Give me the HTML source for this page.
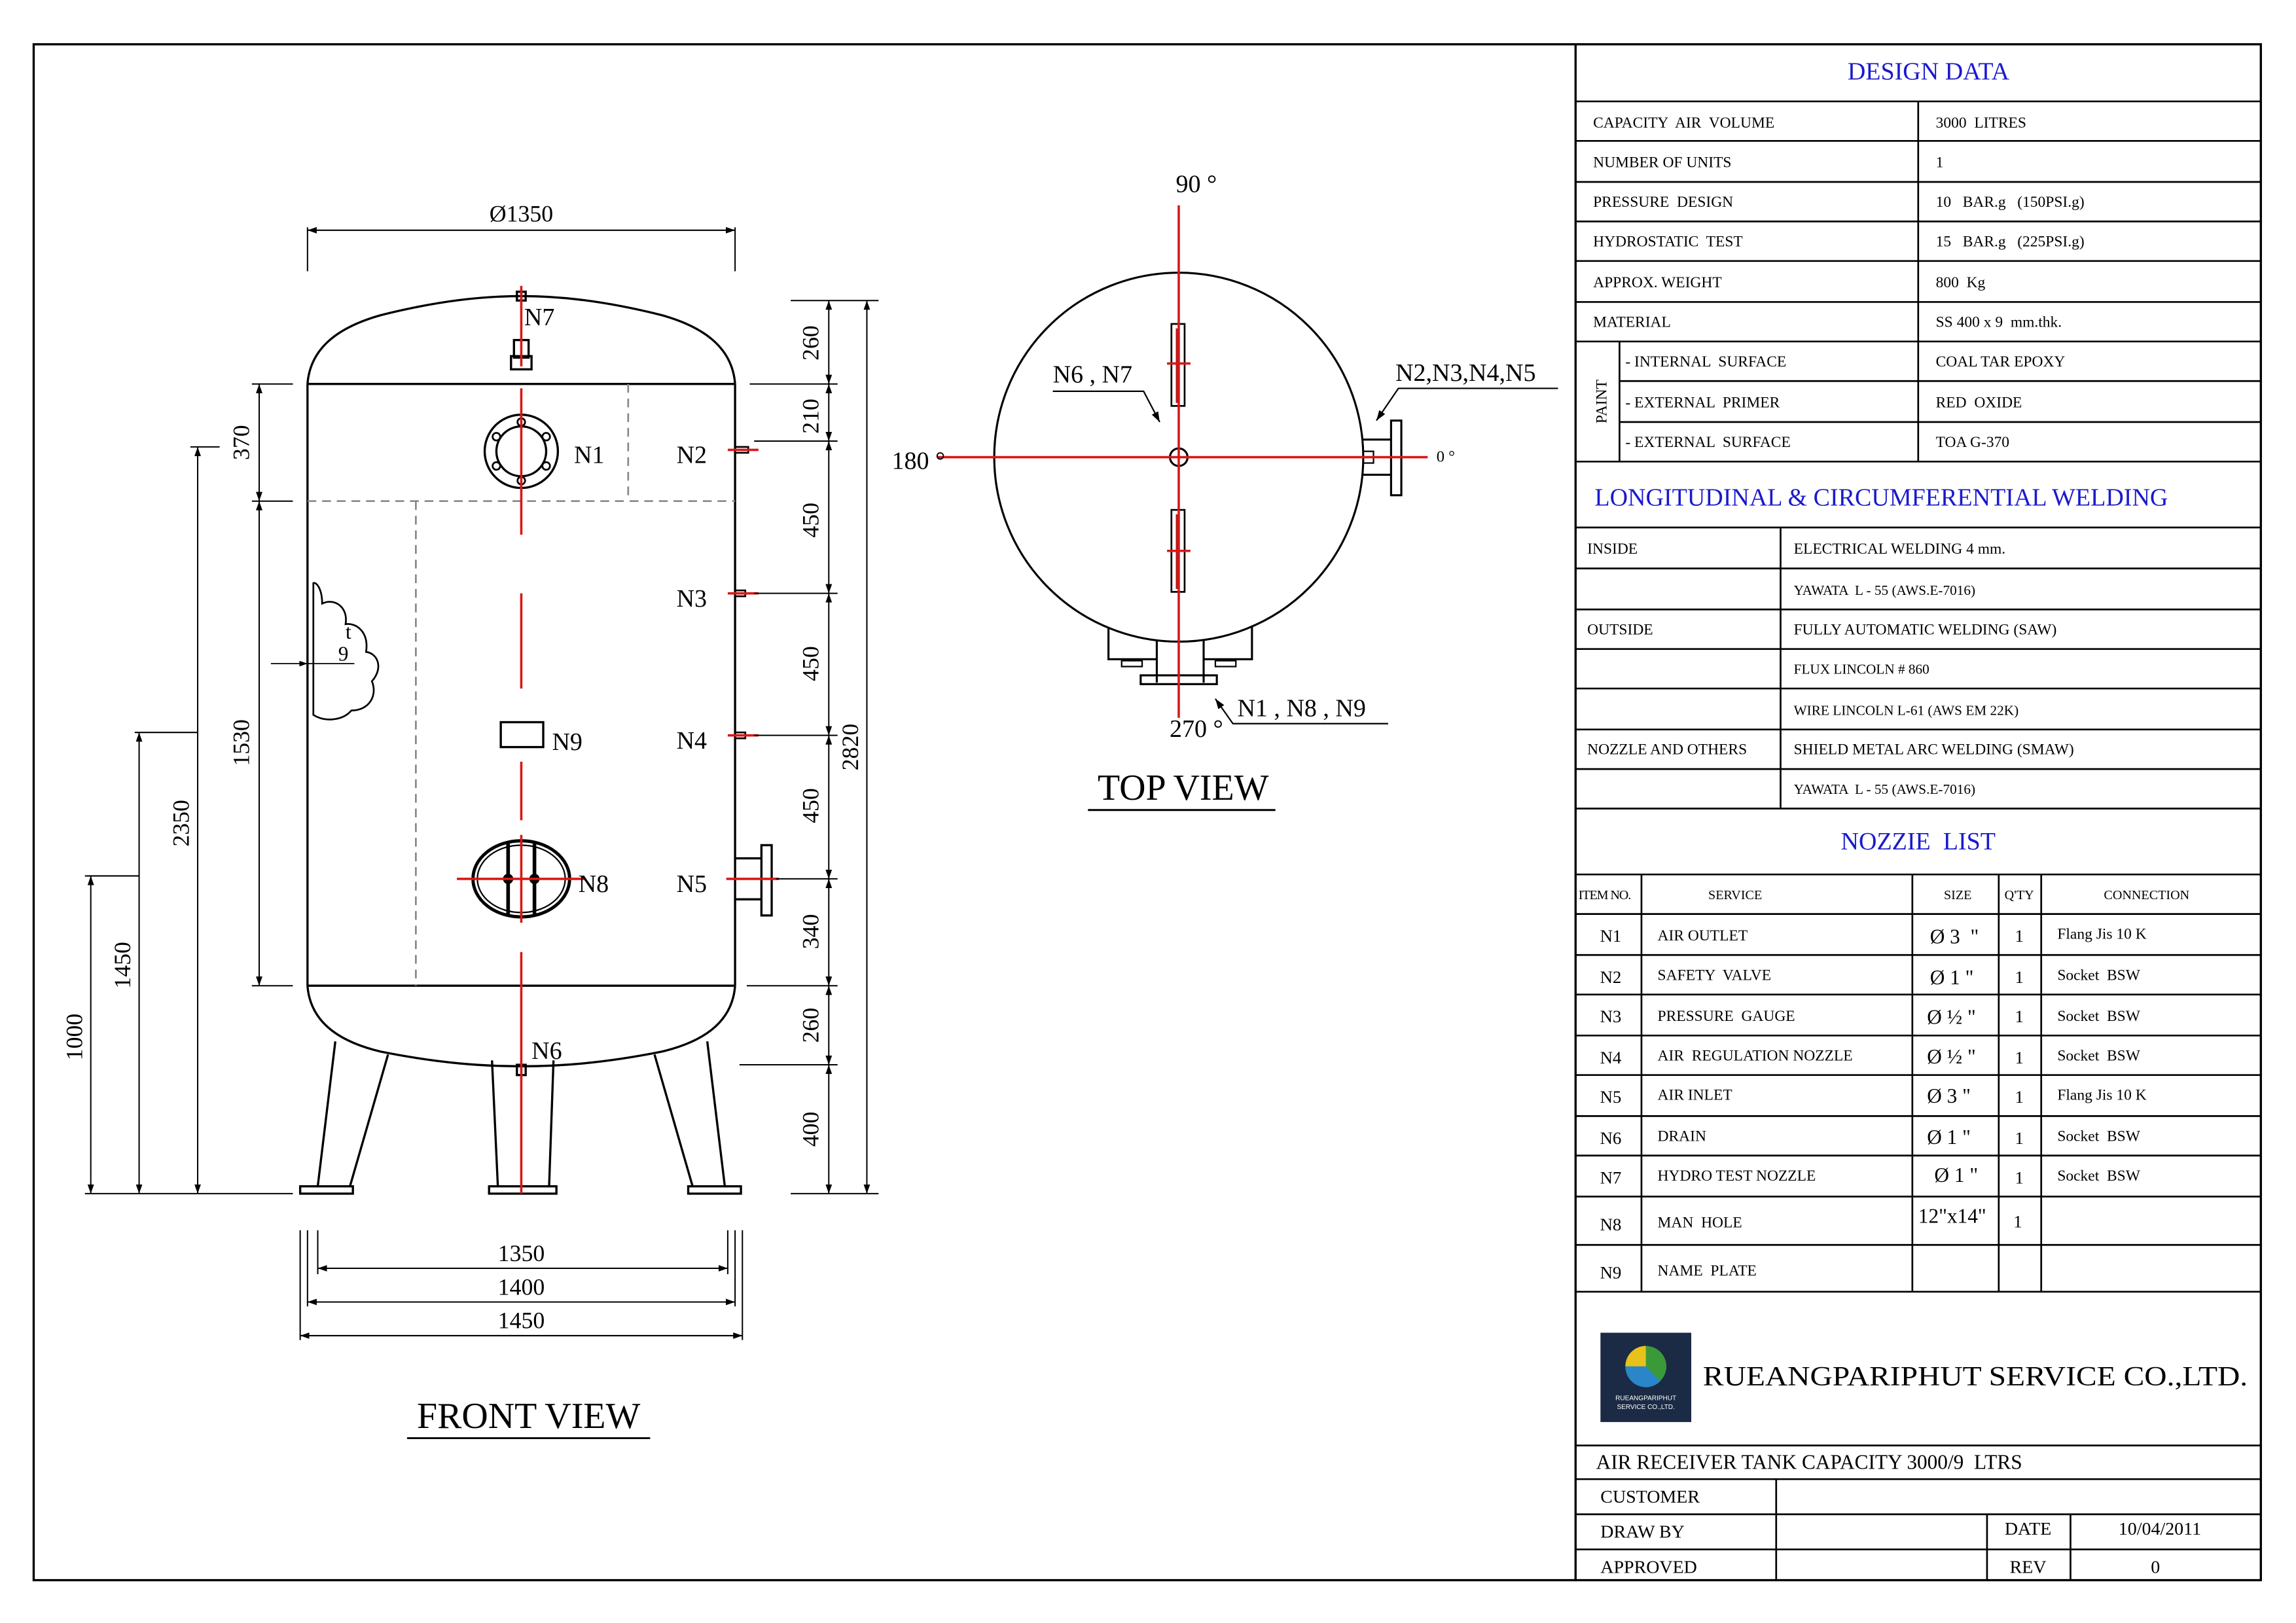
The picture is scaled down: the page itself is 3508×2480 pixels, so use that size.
<!DOCTYPE html>
<html><head><meta charset="utf-8"><style>
html,body{margin:0;padding:0;background:#fff;}
svg{display:block;}
text{font-family:"Liberation Serif",serif;fill:#000;white-space:pre;}
.t{font-size:10.5px;}
.b{fill:#1a1acc;font-size:17px;}
.n{font-size:17px;}
.d{font-size:16px;}
</style></head><body>
<svg width="3508" height="2480" viewBox="0 0 1568 1108" xmlns="http://www.w3.org/2000/svg">
<defs>
<marker id="a" viewBox="0 0 10 10" refX="10" refY="5" markerWidth="7" markerHeight="7" orient="auto-start-reverse"><path d="M0,1.5 L10,5 L0,8.5 Z" fill="#000"/></marker>
</defs>
<rect x="0" y="0" width="1568" height="1108" fill="#fff"/>
<rect x="23" y="30" width="1521" height="1049" fill="none" stroke="#000" stroke-width="1.5"/>
<line x1="1076" y1="30" x2="1076" y2="1079" stroke="#000" stroke-width="1.5"/>

<g stroke="#000" stroke-width="1.2">
<line x1="1076" y1="69" x2="1544" y2="69"/>
<line x1="1076" y1="96" x2="1544" y2="96"/>
<line x1="1076" y1="124" x2="1544" y2="124"/>
<line x1="1076" y1="151" x2="1544" y2="151"/>
<line x1="1076" y1="178" x2="1544" y2="178"/>
<line x1="1076" y1="206" x2="1544" y2="206"/>
<line x1="1076" y1="233" x2="1544" y2="233"/>
<line x1="1106" y1="260" x2="1544" y2="260"/>
<line x1="1106" y1="288" x2="1544" y2="288"/>
<line x1="1076" y1="315" x2="1544" y2="315"/>
<line x1="1310" y1="69" x2="1310" y2="315"/>
<line x1="1106" y1="233" x2="1106" y2="315"/>
</g>
<text x="1317" y="54" class="b" text-anchor="middle">DESIGN DATA</text>
<g class="t">
<text x="1088" y="87">CAPACITY  AIR  VOLUME</text><text x="1322" y="87">3000  LITRES</text>
<text x="1088" y="114">NUMBER OF UNITS</text><text x="1322" y="114">1</text>
<text x="1088" y="141">PRESSURE  DESIGN</text><text x="1322" y="141">10   BAR.g   (150PSI.g)</text>
<text x="1088" y="168">HYDROSTATIC  TEST</text><text x="1322" y="168">15   BAR.g   (225PSI.g)</text>
<text x="1088" y="196">APPROX. WEIGHT</text><text x="1322" y="196">800  Kg</text>
<text x="1088" y="223">MATERIAL</text><text x="1322" y="223">SS 400 x 9  mm.thk.</text>
<text x="1110" y="250">- INTERNAL  SURFACE</text><text x="1322" y="250">COAL TAR EPOXY</text>
<text x="1110" y="278">- EXTERNAL  PRIMER</text><text x="1322" y="278">RED  OXIDE</text>
<text x="1110" y="305">- EXTERNAL  SURFACE</text><text x="1322" y="305">TOA G-370</text>
<text x="1097" y="274" transform="rotate(-90 1097 274)" text-anchor="middle">PAINT</text>
</g>

<text x="1089" y="345" class="b">LONGITUDINAL &amp; CIRCUMFERENTIAL WELDING</text>
<g stroke="#000" stroke-width="1.2">
<line x1="1076" y1="360" x2="1544" y2="360"/>
<line x1="1076" y1="388" x2="1544" y2="388"/>
<line x1="1076" y1="416" x2="1544" y2="416"/>
<line x1="1076" y1="443" x2="1544" y2="443"/>
<line x1="1076" y1="470" x2="1544" y2="470"/>
<line x1="1076" y1="498" x2="1544" y2="498"/>
<line x1="1076" y1="525" x2="1544" y2="525"/>
<line x1="1076" y1="552" x2="1544" y2="552"/>
<line x1="1216" y1="360" x2="1216" y2="552"/>
</g>
<g class="t">
<text x="1084" y="378">INSIDE</text><text x="1225" y="378">ELECTRICAL WELDING 4 mm.</text>
<text x="1225" y="406" font-size="9.5">YAWATA  L - 55 (AWS.E-7016)</text>
<text x="1084" y="433">OUTSIDE</text><text x="1225" y="433">FULLY AUTOMATIC WELDING (SAW)</text>
<text x="1225" y="460" font-size="9.5">FLUX LINCOLN # 860</text>
<text x="1225" y="488" font-size="9.5">WIRE LINCOLN L-61 (AWS EM 22K)</text>
<text x="1084" y="515">NOZZLE AND OTHERS</text><text x="1225" y="515">SHIELD METAL ARC WELDING (SMAW)</text>
<text x="1225" y="542" font-size="9.5">YAWATA  L - 55 (AWS.E-7016)</text>
</g>

<text x="1310" y="580" class="b" text-anchor="middle">NOZZIE  LIST</text>
<g stroke="#000" stroke-width="1.2">
<line x1="1076" y1="597" x2="1544" y2="597"/>
<line x1="1076" y1="624" x2="1544" y2="624"/>
<line x1="1076" y1="652" x2="1544" y2="652"/>
<line x1="1076" y1="679" x2="1544" y2="679"/>
<line x1="1076" y1="707" x2="1544" y2="707"/>
<line x1="1076" y1="734" x2="1544" y2="734"/>
<line x1="1076" y1="762" x2="1544" y2="762"/>
<line x1="1076" y1="789" x2="1544" y2="789"/>
<line x1="1076" y1="817" x2="1544" y2="817"/>
<line x1="1076" y1="850" x2="1544" y2="850"/>
<line x1="1076" y1="882" x2="1544" y2="882"/>
<line x1="1121" y1="597" x2="1121" y2="882"/>
<line x1="1306" y1="597" x2="1306" y2="882"/>
<line x1="1365" y1="597" x2="1365" y2="882"/>
<line x1="1394" y1="597" x2="1394" y2="882"/>
</g>
<g class="t">
<text x="1078" y="614" font-size="9" letter-spacing="-0.5">ITEM NO.</text>
<text x="1185" y="614" font-size="9" text-anchor="middle">SERVICE</text>
<text x="1337" y="614" font-size="9" text-anchor="middle">SIZE</text>
<text x="1379" y="614" font-size="9" text-anchor="middle">Q'TY</text>
<text x="1466" y="614" font-size="9" text-anchor="middle">CONNECTION</text>
</g>
<g font-size="12">
<text x="1100" y="643" text-anchor="middle">N1</text><text x="1100" y="671" text-anchor="middle">N2</text><text x="1100" y="698" text-anchor="middle">N3</text><text x="1100" y="726" text-anchor="middle">N4</text><text x="1100" y="753" text-anchor="middle">N5</text><text x="1100" y="781" text-anchor="middle">N6</text><text x="1100" y="808" text-anchor="middle">N7</text><text x="1100" y="840" text-anchor="middle">N8</text><text x="1100" y="873" text-anchor="middle">N9</text>
<text x="1379" y="643" text-anchor="middle">1</text><text x="1379" y="671" text-anchor="middle">1</text><text x="1379" y="698" text-anchor="middle">1</text><text x="1379" y="726" text-anchor="middle">1</text><text x="1379" y="753" text-anchor="middle">1</text><text x="1379" y="781" text-anchor="middle">1</text><text x="1379" y="808" text-anchor="middle">1</text><text x="1378" y="838" text-anchor="middle">1</text>
</g>
<g class="t">
<text x="1132" y="642">AIR OUTLET</text><text x="1132" y="669">SAFETY  VALVE</text><text x="1132" y="697">PRESSURE  GAUGE</text><text x="1132" y="724">AIR  REGULATION NOZZLE</text><text x="1132" y="751">AIR INLET</text><text x="1132" y="779">DRAIN</text><text x="1132" y="806">HYDRO TEST NOZZLE</text><text x="1132" y="838">MAN  HOLE</text><text x="1132" y="871">NAME  PLATE</text>
<text x="1405" y="641">Flang Jis 10 K</text><text x="1405" y="669">Socket  BSW</text><text x="1405" y="697">Socket  BSW</text><text x="1405" y="724">Socket  BSW</text><text x="1405" y="751">Flang Jis 10 K</text><text x="1405" y="779">Socket  BSW</text><text x="1405" y="806">Socket  BSW</text>
</g>
<g font-size="14">
<text x="1318" y="644">Ø 3  "</text><text x="1318" y="672">Ø 1 "</text><text x="1316" y="699">Ø ½ "</text><text x="1316" y="726">Ø ½ "</text><text x="1316" y="753">Ø 3 "</text><text x="1316" y="781">Ø 1 "</text><text x="1321" y="807">Ø 1 "</text><text x="1310" y="835">12"x14"</text>
</g>

<rect x="1093" y="910" width="62" height="61" fill="#1b2a45"/>
<circle cx="1124" cy="933" r="14" fill="#3a9a3a"/>
<path d="M1124,933 L1110,933 A14,14 0 0 1 1124,919 Z" fill="#e8c21a"/>
<path d="M1124,933 L1110,933 A14,14 0 0 0 1134,943 Z" fill="#2a86c8"/>
<text x="1124" y="956" font-size="4.5" text-anchor="middle" style="fill:#fff;font-family:'Liberation Sans',sans-serif">RUEANGPARIPHUT</text>
<text x="1124" y="962" font-size="4.5" text-anchor="middle" style="fill:#fff;font-family:'Liberation Sans',sans-serif">SERVICE CO.,LTD.</text>
<text x="1163" y="946" font-size="19" textLength="372" lengthAdjust="spacingAndGlyphs">RUEANGPARIPHUT SERVICE CO.,LTD.</text>

<g stroke="#000" stroke-width="1.2">
<line x1="1076" y1="987" x2="1544" y2="987"/>
<line x1="1076" y1="1010" x2="1544" y2="1010"/>
<line x1="1076" y1="1034" x2="1544" y2="1034"/>
<line x1="1076" y1="1058" x2="1544" y2="1058"/>
<line x1="1213" y1="1010" x2="1213" y2="1079"/>
<line x1="1357" y1="1034" x2="1357" y2="1079"/>
<line x1="1414" y1="1034" x2="1414" y2="1079"/>
</g>
<text x="1090" y="1003" font-size="14">AIR RECEIVER TANK CAPACITY 3000/9  LTRS</text>
<g font-size="12.5">
<text x="1093" y="1026">CUSTOMER</text>
<text x="1093" y="1050">DRAW BY</text><text x="1385" y="1048" text-anchor="middle">DATE</text><text x="1475" y="1048" text-anchor="middle">10/04/2011</text>
<text x="1093" y="1074">APPROVED</text><text x="1385" y="1074" text-anchor="middle">REV</text><text x="1472" y="1074" text-anchor="middle">0</text>
</g>

<g fill="none" stroke="#000" stroke-width="1.5">
<path d="M210,262 C212,235 235,222 260,215 C300,205 330,202 356,202 C382,202 412,205 452,215 C477,222 500,235 502,262"/>
<path d="M210,673 C212,700 235,712 260,718 C300,726 330,728 356,728 C382,728 412,726 452,718 C477,712 500,700 502,673"/>
<line x1="210" y1="262" x2="210" y2="673"/>
<line x1="502" y1="262" x2="502" y2="673"/>
<line x1="210" y1="262" x2="502" y2="262"/>
<line x1="210" y1="673" x2="502" y2="673"/>
<path d="M229,711 L217,810 M265,720 L239,810"/>
<path d="M336,724 L340,810 M378,724 L375,810"/>
<path d="M447,720 L473,810 M483,711 L495,810"/>
<rect x="205" y="810" width="36" height="5"/>
<rect x="334" y="810" width="46" height="5"/>
<rect x="470" y="810" width="36" height="5"/>
<circle cx="356" cy="308" r="25"/><circle cx="356" cy="308" r="17"/>
<g stroke-width="1.2"><circle cx="356" cy="288" r="2.6"/><circle cx="356" cy="328" r="2.6"/><circle cx="339" cy="298" r="2.6"/><circle cx="373" cy="298" r="2.6"/><circle cx="339" cy="318" r="2.6"/><circle cx="373" cy="318" r="2.6"/></g>
<rect x="353" y="199" width="6" height="6"/>
<rect x="351" y="232" width="10" height="12"/>
<rect x="349" y="243" width="14" height="9"/>
<rect x="353" y="727" width="6" height="7"/>
<rect x="342" y="493" width="29" height="17"/>
<ellipse cx="356" cy="600" rx="33" ry="26" stroke-width="2.2"/>
<ellipse cx="356" cy="600" rx="30" ry="23" stroke-width="1"/>
<line x1="347" y1="576" x2="347" y2="624" stroke-width="2.5"/>
<line x1="365" y1="576" x2="365" y2="624" stroke-width="2.5"/>
<rect x="502" y="305" width="9" height="4" stroke-width="1.2"/>
<rect x="502" y="403" width="7" height="4" stroke-width="1.2"/>
<rect x="502" y="500" width="7" height="4" stroke-width="1.2"/>
<path d="M502,586 H520 M502,614 H520"/>
<rect x="520" y="577" width="7" height="48"/>
<path d="M214,398 V488 C222,493 234,492 240,485 C252,485 258,475 254,465 C262,456 258,446 250,445 C252,432 244,425 236,426 C238,414 228,408 220,412 C220,402 216,397 214,398 Z" stroke-width="1.2"/>
</g>
<circle cx="347" cy="600" r="3.5" fill="#000"/><circle cx="365" cy="600" r="3.5" fill="#000"/>
<line x1="185" y1="453" x2="210" y2="453" stroke="#000" stroke-width="0.8" marker-end="url(#a)"/>
<line x1="210" y1="453" x2="242" y2="453" stroke="#000" stroke-width="0.8"/>
<text x="236" y="436" font-size="14">t</text><text x="231" y="451" font-size="14">9</text>
<g stroke="#888" stroke-width="1.2" stroke-dasharray="6,4" fill="none">
<line x1="210" y1="342" x2="502" y2="342"/>
<line x1="429" y1="262" x2="429" y2="342"/>
<line x1="284" y1="342" x2="284" y2="673"/>
</g>
<g stroke="#d81818" stroke-width="1.6">
<line x1="356" y1="195" x2="356" y2="250"/>
<line x1="356" y1="265" x2="356" y2="365"/>
<line x1="356" y1="405" x2="356" y2="470"/>
<line x1="356" y1="520" x2="356" y2="560"/>
<line x1="356" y1="570" x2="356" y2="630"/>
<line x1="356" y1="650" x2="356" y2="815"/>
<line x1="312" y1="600" x2="400" y2="600"/>
<line x1="497" y1="307" x2="518" y2="307"/>
<line x1="497" y1="405" x2="518" y2="405"/>
<line x1="497" y1="502" x2="518" y2="502"/>
<line x1="496" y1="600" x2="532" y2="600"/>
</g>
<g class="n">
<text x="358" y="222">N7</text><text x="392" y="316">N1</text><text x="462" y="316">N2</text><text x="462" y="414">N3</text><text x="377" y="512">N9</text><text x="462" y="511">N4</text><text x="395" y="609">N8</text><text x="462" y="609">N5</text><text x="363" y="723">N6</text>
</g>

<g stroke="#000" stroke-width="0.9" fill="none">
<line x1="210" y1="155" x2="210" y2="185"/><line x1="502" y1="155" x2="502" y2="185"/>
<line x1="210" y1="157" x2="502" y2="157" marker-start="url(#a)" marker-end="url(#a)"/>
<line x1="540" y1="205" x2="600" y2="205"/>
<line x1="512" y1="262" x2="572" y2="262"/>
<line x1="515" y1="301" x2="572" y2="301"/>
<line x1="515" y1="405" x2="572" y2="405"/>
<line x1="515" y1="502" x2="572" y2="502"/>
<line x1="530" y1="600" x2="572" y2="600"/>
<line x1="510" y1="673" x2="572" y2="673"/>
<line x1="505" y1="727" x2="572" y2="727"/>
<line x1="540" y1="815" x2="600" y2="815"/>
<line x1="566" y1="205" x2="566" y2="262" marker-start="url(#a)" marker-end="url(#a)"/>
<line x1="566" y1="262" x2="566" y2="301" marker-start="url(#a)" marker-end="url(#a)"/>
<line x1="566" y1="301" x2="566" y2="405" marker-start="url(#a)" marker-end="url(#a)"/>
<line x1="566" y1="405" x2="566" y2="502" marker-start="url(#a)" marker-end="url(#a)"/>
<line x1="566" y1="502" x2="566" y2="600" marker-start="url(#a)" marker-end="url(#a)"/>
<line x1="566" y1="600" x2="566" y2="673" marker-start="url(#a)" marker-end="url(#a)"/>
<line x1="566" y1="673" x2="566" y2="727" marker-start="url(#a)" marker-end="url(#a)"/>
<line x1="566" y1="727" x2="566" y2="815" marker-start="url(#a)" marker-end="url(#a)"/>
<line x1="592" y1="205" x2="592" y2="815" marker-start="url(#a)" marker-end="url(#a)"/>
<line x1="172" y1="262" x2="200" y2="262"/>
<line x1="172" y1="342" x2="200" y2="342"/>
<line x1="172" y1="673" x2="200" y2="673"/>
<line x1="130" y1="305" x2="150" y2="305"/>
<line x1="92" y1="500" x2="135" y2="500"/>
<line x1="58" y1="598" x2="95" y2="598"/>
<line x1="58" y1="815" x2="200" y2="815"/>
<line x1="177" y1="262" x2="177" y2="342" marker-start="url(#a)" marker-end="url(#a)"/>
<line x1="177" y1="342" x2="177" y2="673" marker-start="url(#a)" marker-end="url(#a)"/>
<line x1="135" y1="305" x2="135" y2="815" marker-start="url(#a)" marker-end="url(#a)"/>
<line x1="95" y1="500" x2="95" y2="815" marker-start="url(#a)" marker-end="url(#a)"/>
<line x1="62" y1="598" x2="62" y2="815" marker-start="url(#a)" marker-end="url(#a)"/>
<line x1="205" y1="840" x2="205" y2="915"/><line x1="210" y1="840" x2="210" y2="892"/><line x1="217" y1="840" x2="217" y2="870"/>
<line x1="507" y1="840" x2="507" y2="915"/><line x1="502" y1="840" x2="502" y2="892"/><line x1="497" y1="840" x2="497" y2="870"/>
<line x1="217" y1="866" x2="497" y2="866" marker-start="url(#a)" marker-end="url(#a)"/>
<line x1="210" y1="889" x2="502" y2="889" marker-start="url(#a)" marker-end="url(#a)"/>
<line x1="205" y1="912" x2="507" y2="912" marker-start="url(#a)" marker-end="url(#a)"/>
</g>
<g class="d">
<text x="356" y="151" text-anchor="middle">Ø1350</text>
<text x="356" y="861" text-anchor="middle">1350</text>
<text x="356" y="884" text-anchor="middle">1400</text>
<text x="356" y="907" text-anchor="middle">1450</text>
<text transform="translate(559,234) rotate(-90)" text-anchor="middle">260</text>
<text transform="translate(559,284) rotate(-90)" text-anchor="middle">210</text>
<text transform="translate(559,355) rotate(-90)" text-anchor="middle">450</text>
<text transform="translate(559,453) rotate(-90)" text-anchor="middle">450</text>
<text transform="translate(559,550) rotate(-90)" text-anchor="middle">450</text>
<text transform="translate(559,636) rotate(-90)" text-anchor="middle">340</text>
<text transform="translate(559,700) rotate(-90)" text-anchor="middle">260</text>
<text transform="translate(559,771) rotate(-90)" text-anchor="middle">400</text>
<text transform="translate(586,510) rotate(-90)" text-anchor="middle">2820</text>
<text transform="translate(170,302) rotate(-90)" text-anchor="middle">370</text>
<text transform="translate(170,507) rotate(-90)" text-anchor="middle">1530</text>
<text transform="translate(129,562) rotate(-90)" text-anchor="middle">2350</text>
<text transform="translate(89,659) rotate(-90)" text-anchor="middle">1450</text>
<text transform="translate(56,708) rotate(-90)" text-anchor="middle">1000</text>
</g>
<text x="361" y="975" font-size="25" text-anchor="middle">FRONT VIEW</text>
<line x1="278" y1="982" x2="444" y2="982" stroke="#000" stroke-width="1.3"/>

<g fill="none" stroke="#000" stroke-width="1.4">
<circle cx="805" cy="312" r="126"/>
<circle cx="805" cy="312" r="6"/>
<rect x="800" y="221" width="9" height="56" stroke-width="1.2"/>
<rect x="800" y="348" width="9" height="56" stroke-width="1.2"/>
<path d="M930,300 H950 M930,324 H950" />
<rect x="931" y="308" width="7" height="8" stroke-width="1"/>
<rect x="950" y="287" width="7" height="51"/>
<path d="M757,428 V450 H790 M855,428 V450 H822"/>
<path d="M790,437 V466 M822,437 V466"/>
<rect x="779" y="461" width="52" height="6"/>
<rect x="766" y="451" width="14" height="4" stroke-width="1"/><rect x="830" y="451" width="14" height="4" stroke-width="1"/>
</g>
<g stroke="#b81818" stroke-width="2"><line x1="804" y1="224" x2="804" y2="275"/><line x1="804" y1="351" x2="804" y2="402"/></g>
<g stroke="#d81818" stroke-width="1.6">
<line x1="805" y1="140" x2="805" y2="490"/>
<line x1="640" y1="312" x2="975" y2="312"/>
<line x1="797" y1="248" x2="813" y2="248"/><line x1="797" y1="376" x2="813" y2="376"/>
</g>
<g stroke="#000" stroke-width="1" fill="none">
<path d="M719,267 H781 L792,288" marker-end="url(#a)"/>
<path d="M1064,265 H955 L940,287" marker-end="url(#a)"/>
<path d="M948,494 H842 L830,477" marker-end="url(#a)"/>
</g>
<g class="n">
<text x="817" y="131" text-anchor="middle">90 °</text>
<text x="609" y="320">180 °</text>
<text x="981" y="315" font-size="11">0 °</text>
<text x="817" y="503" text-anchor="middle">270 °</text>
<text x="719" y="261">N6 , N7</text>
<text x="953" y="260">N2,N3,N4,N5</text>
<text x="845" y="489">N1 , N8 , N9</text>
</g>
<text x="808" y="546" font-size="25" text-anchor="middle">TOP VIEW</text>
<line x1="743" y1="553" x2="871" y2="553" stroke="#000" stroke-width="1.3"/>
</svg>
</body></html>
